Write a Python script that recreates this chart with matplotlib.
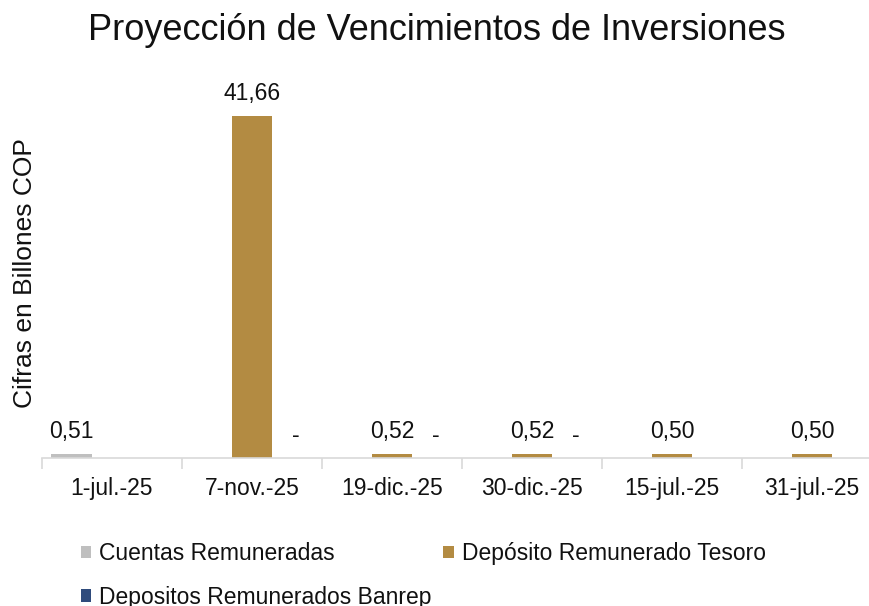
import matplotlib
matplotlib.use("Agg")
import matplotlib.pyplot as plt
from matplotlib.patches import Patch
import numpy as np

plt.rcParams['font.family'] = ['Liberation Sans', 'DejaVu Sans']

categories = ["1-jul.-25", "7-nov.-25", "19-dic.-25", "30-dic.-25", "15-jul.-25", "31-jul.-25"]
series_names = ["Cuentas Remuneradas", "Depósito Remunerado Tesoro", "Depositos Remunerados Banrep"]
cuentas = [0.51, np.nan, np.nan, np.nan, np.nan, np.nan]
tesoro = [np.nan, 41.66, 0.52, 0.52, 0.50, 0.50]
banrep = [np.nan, 0.0, 0.0, 0.0, np.nan, np.nan]
colors = ["#bfbfbf", "#b38b42", "#2f4b7c"]

FS = 16.5

fig = plt.figure(figsize=(8.69, 6.06), dpi=100)
ax = fig.add_axes([42/869, (606-458)/606, 840/869, 0.6096])

x = np.arange(len(categories))
w = 0.29
offsets = [-w, 0, w + 0.02]
handles = []
for vals, off, col, name in zip([cuentas, tesoro, banrep], offsets, colors, series_names):
    v = np.array(vals, dtype=float)
    bars = ax.bar(x + off, np.nan_to_num(v), width=w, color=col, label=name)
    labels = []
    for val in v:
        if np.isnan(val):
            labels.append("")
        elif val == 0:
            labels.append("-")
        else:
            labels.append(f"{val:.2f}".replace(".", ","))
    ax.bar_label(bars, labels=labels, padding=8, fontsize=FS, color="#111111")
    handles.append(Patch(facecolor=col, edgecolor='none', label=name))

ax.set_xlim(-0.5, len(categories) - 0.5)
ax.set_ylim(0, 45)
ax.set_yticks([])
for s in ["top", "right", "left"]:
    ax.spines[s].set_visible(False)
ax.spines["bottom"].set_color("#d9d9d9")
ax.spines["bottom"].set_linewidth(1.2)
ax.set_xticks(x)
ax.set_xticklabels(categories, fontsize=FS, color="#111111")
ax.tick_params(axis='x', which='major', length=0, pad=14)
ax.set_xticks(np.arange(len(categories) + 1) - 0.5, minor=True)
ax.tick_params(axis='x', which='minor', length=8, color="#d9d9d9", width=1.2)

ax.set_ylabel("Cifras en Billones COP", fontsize=19, color="#111111", labelpad=3.5)

fig.text(437/869, 1 - 31/606, "Proyección de Vencimientos de Inversiones",
         ha="center", va="center", fontsize=26, color="#111111")

order = [handles[0], handles[2], handles[1]]
leg = fig.legend(handles=order, ncol=2, loc="upper left",
                 bbox_to_anchor=(81/869, 1 - 542/606), frameon=False,
                 fontsize=FS, handlelength=0.45, handleheight=0.45,
                 handletextpad=0.35, columnspacing=0.5, labelspacing=0.9,
                 borderpad=0, borderaxespad=0)
for t in leg.get_texts():
    t.set_color("#111111")

fig.savefig("out.png", dpi=100)
